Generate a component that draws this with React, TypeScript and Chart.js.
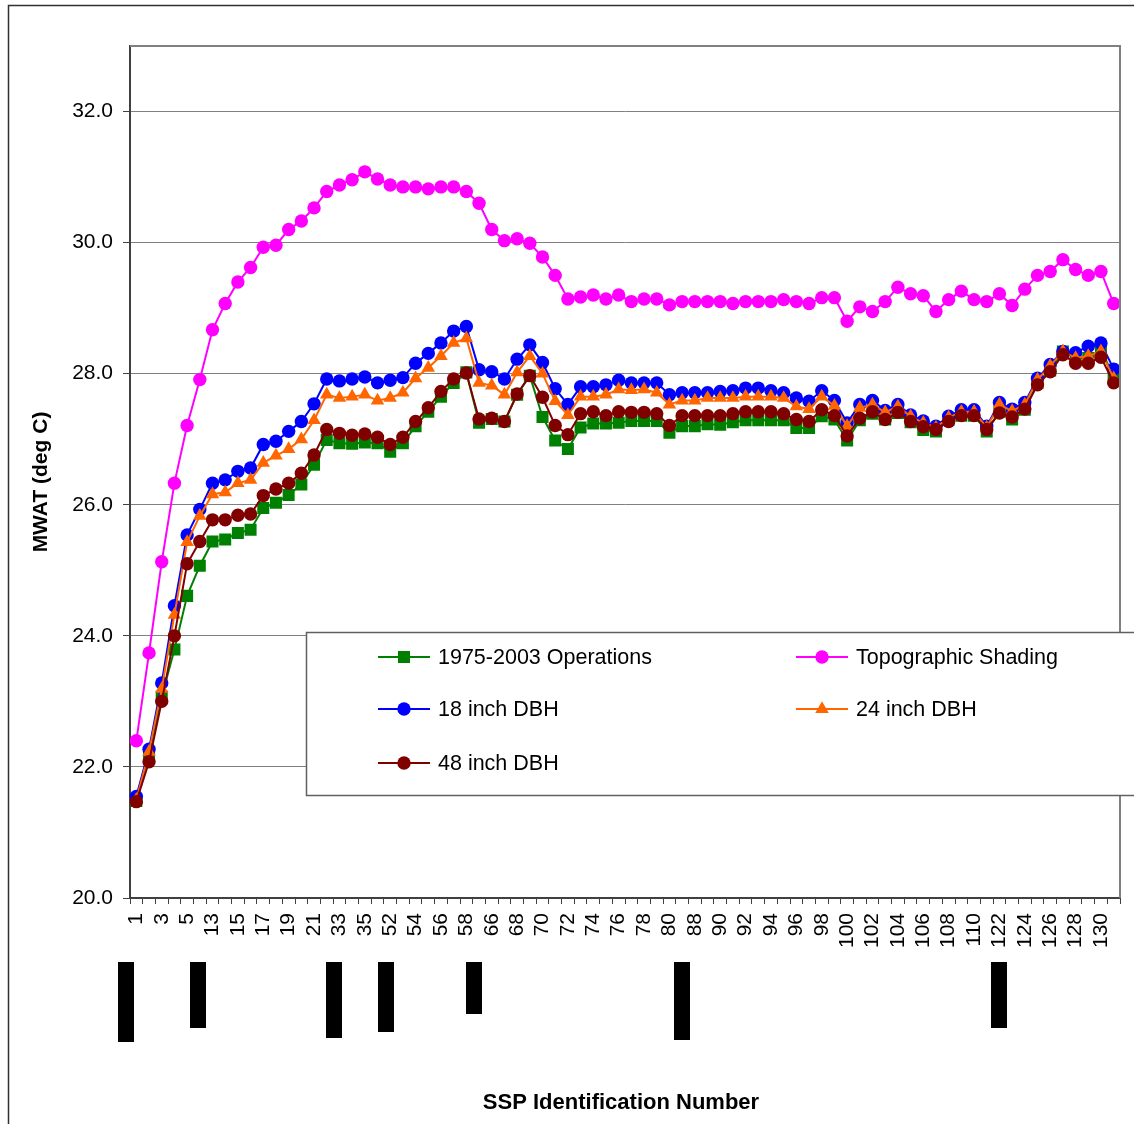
import React, { useEffect, useRef } from 'react';
import { Chart, registerables } from 'chart.js';

Chart.register(...registerables);

// SSP identification numbers (every other one is labelled on the axis)
const sspIds = [
  '1', '2', '3', '4', '5', '6',
  '13', '14', '15', '16', '17', '18', '19', '20', '21', '22',
  '33', '34', '35', '36',
  '52', '53', '54', '55', '56', '57', '58', '59',
  '66', '67', '68', '69', '70', '71', '72', '73', '74', '75', '76', '77', '78', '79', '80', '81',
  '88', '89', '90', '91', '92', '93', '94', '95', '96', '97', '98', '99', '100', '101', '102', '103',
  '104', '105', '106', '107', '108', '109', '110', '111',
  '122', '123', '124', '125', '126', '127', '128', '129', '130', '131',
];

const operations19752003 = [
  21.48, 22.21, 23.07, 23.79, 24.61, 25.07, 25.44, 25.47, 25.57, 25.62,
  25.95, 26.03, 26.15, 26.31, 26.61, 26.99, 26.94, 26.93, 26.95, 26.94,
  26.81, 26.94, 27.20, 27.42, 27.65, 27.86, 28.02, 27.25, 27.31, 27.27,
  27.68, 27.97, 27.34, 26.98, 26.85, 27.18, 27.24, 27.24, 27.25, 27.28,
  27.28, 27.28, 27.10, 27.20, 27.20, 27.23, 27.22, 27.26, 27.29, 27.29,
  27.29, 27.29, 27.17, 27.17, 27.35, 27.30, 26.98, 27.29, 27.39, 27.30,
  27.40, 27.26, 27.14, 27.12, 27.30, 27.36, 27.36, 27.12, 27.42, 27.30,
  27.45, 27.86, 28.05, 28.34, 28.24, 28.24, 28.37, 27.96,
];

const topographicShading = [
  22.40, 23.74, 25.13, 26.33, 27.21, 27.91, 28.67, 29.07, 29.40, 29.62,
  29.93, 29.96, 30.20, 30.33, 30.53, 30.78, 30.88, 30.96, 31.08, 30.97,
  30.88, 30.85, 30.85, 30.82, 30.85, 30.85, 30.78, 30.60, 30.20, 30.03,
  30.06, 29.99, 29.78, 29.50, 29.14, 29.17, 29.20, 29.14, 29.20, 29.10,
  29.14, 29.14, 29.05, 29.10, 29.10, 29.10, 29.10, 29.07, 29.10, 29.10,
  29.10, 29.13, 29.10, 29.07, 29.16, 29.16, 28.80, 29.02, 28.95, 29.10,
  29.32, 29.22, 29.19, 28.95, 29.13, 29.26, 29.13, 29.10, 29.22, 29.04,
  29.29, 29.50, 29.56, 29.74, 29.59, 29.50, 29.56, 29.07,
];

const dbh18 = [
  21.55, 22.27, 23.28, 24.46, 25.54, 25.93, 26.33, 26.38, 26.51, 26.56,
  26.92, 26.97, 27.12, 27.27, 27.54, 27.92, 27.89, 27.92, 27.95, 27.86,
  27.90, 27.94, 28.16, 28.31, 28.47, 28.65, 28.72, 28.06, 28.03, 27.92,
  28.22, 28.44, 28.17, 27.77, 27.53, 27.80, 27.80, 27.83, 27.90, 27.86,
  27.86, 27.86, 27.68, 27.71, 27.71, 27.71, 27.73, 27.74, 27.78, 27.78,
  27.74, 27.71, 27.63, 27.58, 27.74, 27.59, 27.25, 27.53, 27.59, 27.44,
  27.53, 27.37, 27.28, 27.20, 27.35, 27.45, 27.45, 27.20, 27.56, 27.46,
  27.56, 27.93, 28.14, 28.34, 28.32, 28.42, 28.47, 28.07,
];

const dbh24 = [
  21.50, 22.23, 23.19, 24.32, 25.43, 25.83, 26.16, 26.19, 26.33, 26.38,
  26.64, 26.75, 26.85, 27.00, 27.29, 27.68, 27.63, 27.65, 27.68, 27.59,
  27.63, 27.71, 27.93, 28.09, 28.27, 28.47, 28.54, 27.86, 27.82, 27.68,
  28.02, 28.27, 28.00, 27.58, 27.37, 27.65, 27.65, 27.68, 27.76, 27.75,
  27.76, 27.71, 27.53, 27.59, 27.59, 27.63, 27.63, 27.63, 27.65, 27.65,
  27.65, 27.63, 27.50, 27.46, 27.65, 27.51, 27.20, 27.48, 27.53, 27.41,
  27.50, 27.35, 27.25, 27.18, 27.33, 27.42, 27.42, 27.18, 27.53, 27.43,
  27.53, 27.91, 28.12, 28.34, 28.24, 28.27, 28.34, 27.93,
];

const dbh48 = [
  21.47, 22.08, 23.00, 24.00, 25.10, 25.44, 25.77, 25.77, 25.84, 25.86,
  26.14, 26.24, 26.33, 26.48, 26.76, 27.15, 27.09, 27.06, 27.08, 27.03,
  26.92, 27.03, 27.27, 27.48, 27.73, 27.92, 28.01, 27.31, 27.32, 27.27,
  27.69, 27.97, 27.64, 27.21, 27.07, 27.39, 27.42, 27.36, 27.42, 27.41,
  27.41, 27.39, 27.21, 27.36, 27.36, 27.36, 27.36, 27.39, 27.42, 27.42,
  27.42, 27.39, 27.30, 27.27, 27.45, 27.36, 27.05, 27.32, 27.42, 27.30,
  27.41, 27.27, 27.19, 27.15, 27.27, 27.36, 27.36, 27.15, 27.40, 27.34,
  27.46, 27.83, 28.03, 28.29, 28.16, 28.16, 28.25, 27.86,
];

const yTickValues = [20, 22, 24, 26, 28, 30, 32];

// Annotation bars below the axis: position in category units, length in px
const markerBarPositions = [-0.8, 4.86, 15.6, 19.7, 26.6, 43.0, 68.0];
const markerBarLengths = [80, 66, 76, 70, 52, 78, 66];

const FONT = '"Liberation Sans", Arial, Helvetica, sans-serif';

const seriesStyles = [
  { label: '1975-2003 Operations', color: '#008000', shape: 'rect', radius: 8.5, order: 4 },
  { label: 'Topographic Shading', color: '#FF00FF', shape: 'circle', radius: 6.7, order: 3 },
  { label: '18 inch DBH', color: '#0000FF', shape: 'circle', radius: 6.7, order: 2 },
  { label: '24 inch DBH', color: '#FF6600', shape: 'triangle', radius: 7.8, order: 1 },
  { label: '48 inch DBH', color: '#800000', shape: 'circle', radius: 6.7, order: 0 },
];
const seriesData = [operations19752003, topographicShading, dbh18, dbh24, dbh48];

function drawMarker(ctx: CanvasRenderingContext2D, shape: string, x: number, y: number, r: number) {
  ctx.beginPath();
  if (shape === 'rect') {
    const s = r * Math.SQRT1_2;
    ctx.rect(x - s, y - s, 2 * s, 2 * s);
  } else if (shape === 'triangle') {
    ctx.moveTo(x, y - r);
    ctx.lineTo(x + r * Math.sin((2 * Math.PI) / 3), y - r * Math.cos((2 * Math.PI) / 3));
    ctx.lineTo(x + r * Math.sin((4 * Math.PI) / 3), y - r * Math.cos((4 * Math.PI) / 3));
    ctx.closePath();
  } else {
    ctx.arc(x, y, r, 0, Math.PI * 2);
  }
  ctx.fill();
}

const decorPlugin = {
  id: 'decor',
  beforeDraw(chart: any) {
    const { ctx, width, height } = chart;
    ctx.save();
    ctx.fillStyle = '#ffffff';
    ctx.fillRect(0, 0, width, height);
    ctx.restore();
  },
  afterDraw(chart: any) {
    const { ctx, chartArea: a, scales } = chart;
    ctx.save();
    // plot area top/right border
    ctx.strokeStyle = '#808080';
    ctx.lineWidth = 2;
    ctx.beginPath();
    ctx.moveTo(a.left, a.top);
    ctx.lineTo(a.right, a.top);
    ctx.lineTo(a.right, a.bottom);
    ctx.stroke();

    // outer frame
    ctx.strokeStyle = '#303030';
    ctx.lineWidth = 1.5;
    ctx.beginPath();
    ctx.moveTo(8.5, chart.height);
    ctx.lineTo(8.5, 5.5);
    ctx.lineTo(chart.width, 5.5);
    ctx.stroke();

    // axis titles
    ctx.fillStyle = '#000';
    ctx.font = `bold 22px ${FONT}`;
    ctx.textAlign = 'center';
    ctx.textBaseline = 'middle';
    ctx.fillText('SSP Identification Number', 621, 1103);
    ctx.font = `bold 21px ${FONT}`;
    ctx.save();
    ctx.translate(41, 482);
    ctx.rotate(-Math.PI / 2);
    ctx.fillText('MWAT (deg C)', 0, 0);
    ctx.restore();

    // annotation bars
    ctx.fillStyle = '#000';
    markerBarPositions.forEach((p, i) => {
      const cx = scales.x.getPixelForValue(p);
      ctx.fillRect(Math.round(cx - 8), 962, 16, markerBarLengths[i]);
    });

    // legend box
    ctx.fillStyle = '#ffffff';
    ctx.fillRect(306, 632, 900, 164);
    ctx.strokeStyle = '#606060';
    ctx.lineWidth = 1.5;
    ctx.strokeRect(306.5, 632.5, 900, 163);

    const cols = [378, 796];
    const rows = [657, 709, 763];
    ctx.font = `21.5px ${FONT}`;
    ctx.textAlign = 'left';
    ctx.textBaseline = 'middle';
    seriesStyles.forEach((st, idx) => {
      const x0 = cols[idx % 2];
      const y0 = rows[Math.floor(idx / 2)];
      ctx.strokeStyle = st.color;
      ctx.lineWidth = 2;
      ctx.beginPath();
      ctx.moveTo(x0, y0);
      ctx.lineTo(x0 + 52, y0);
      ctx.stroke();
      ctx.fillStyle = st.color;
      drawMarker(ctx, st.shape, x0 + 26, y0, st.radius);
      ctx.fillStyle = '#000';
      ctx.fillText(st.label, x0 + 60, y0 + 1);
    });
    ctx.restore();
  },
};

export default function App() {
  const canvasRef = useRef<HTMLCanvasElement | null>(null);

  useEffect(() => {
    const canvas = canvasRef.current;
    if (!canvas) return;
    const chart = new Chart(canvas, {
      type: 'line',
      data: {
        labels: sspIds,
        datasets: seriesStyles.map((st, i) => ({
          label: st.label,
          data: seriesData[i],
          borderColor: st.color,
          backgroundColor: st.color,
          borderWidth: 2,
          pointStyle: st.shape as any,
          pointRadius: st.radius,
          pointBorderWidth: 0,
          pointBackgroundColor: st.color,
          pointBorderColor: st.color,
          tension: 0,
          fill: false,
          order: st.order,
        })),
      },
      options: {
        responsive: false,
        animation: false,
        devicePixelRatio: 1,
        layout: { padding: { top: 46, right: 14, left: 0, bottom: 0 }, autoPadding: false } as any,
        plugins: {
          legend: { display: false },
          tooltip: { enabled: false },
          title: { display: false },
        },
        scales: {
          x: {
            type: 'category',
            offset: true,
            grid: {
              offset: true,
              drawOnChartArea: false,
              drawTicks: true,
              tickLength: 6,
              tickColor: '#404040',
              lineWidth: 1,
            },
            border: { display: true, color: '#404040', width: 2 },
            ticks: {
              autoSkip: false,
              minRotation: 90,
              maxRotation: 90,
              padding: 9,
              color: '#000',
              font: { family: FONT, size: 21 },
              callback: (_v: any, i: number) => (i % 2 === 0 ? sspIds[i] : ''),
            },
            afterFit: (scale: any) => {
              scale.height = 226;
              scale.paddingLeft = 0;
              scale.paddingRight = 0;
            },
          },
          y: {
            type: 'linear',
            min: 20,
            max: 33,
            grid: {
              color: '#808080',
              lineWidth: 1,
              tickLength: 7,
              tickColor: '#404040',
            },
            border: { display: true, color: '#404040', width: 2 },
            afterBuildTicks: (scale: any) => {
              scale.ticks = yTickValues.map((v) => ({ value: v }));
            },
            ticks: {
              padding: 10,
              color: '#000',
              font: { family: FONT, size: 21 },
              callback: (v: any) => Number(v).toFixed(1),
            },
            afterFit: (scale: any) => {
              scale.width = 130;
              scale.paddingTop = 0;
              scale.paddingBottom = 0;
            },
          },
        },
      } as any,
      plugins: [decorPlugin],
    });
    return () => chart.destroy();
  }, []);

  return (
    <div style={{ position: 'absolute', left: 0, top: 0, width: 1134, height: 1124, background: '#fff' }}>
      <canvas ref={canvasRef} width={1134} height={1124} style={{ display: 'block' }} />
    </div>
  );
}
